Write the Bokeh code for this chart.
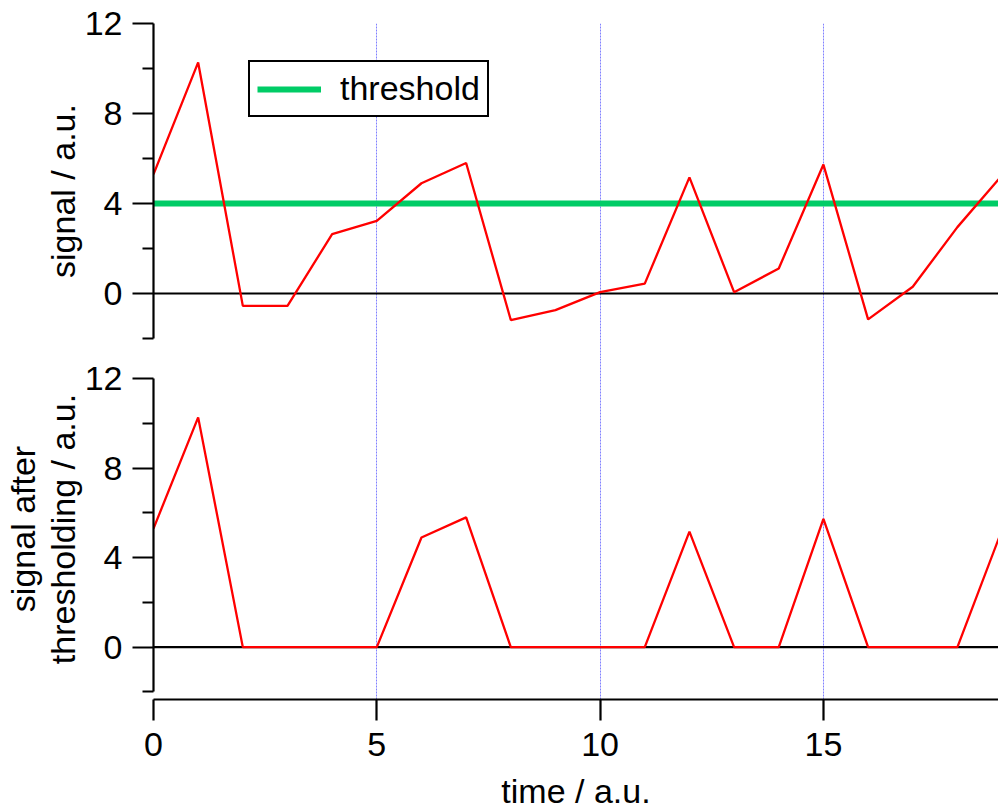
from bokeh.plotting import figure
from bokeh.layouts import column
from bokeh.models import FixedTicker, Grid, Span, Legend, LegendItem, Range1d
from bokeh.embed import file_html
from bokeh.resources import INLINE

# time samples and the raw signal
time = list(range(20))
signal = [5.3, 10.27, -0.55, -0.55, 2.64, 3.23, 4.9, 5.8, -1.18, -0.74,
          0.06, 0.44, 5.16, 0.06, 1.11, 5.73, -1.15, 0.3, 2.95, 5.25]
threshold_level = [4.0] * 20
# signal after thresholding (values below the threshold set to zero)
thresholded = [5.3, 10.27, 0, 0, 0, 0, 4.9, 5.8, 0, 0,
               0, 0, 5.16, 0, 0, 5.73, 0, 0, 0, 5.25]

x_ticks = [0, 5, 10, 15]
y_ticks = [0, 4, 8, 12]
y_minor = [-2, 2, 6, 10]

FONT = "Liberation Sans"
FS = "34px"
RED = "#ff0000"
GREEN = "#00cc66"
GRID = "#8080ff"

x_range = Range1d(0, 18.92)


def style_y(p, label):
    ax = p.yaxis[0]
    ax.ticker = FixedTicker(ticks=y_ticks, minor_ticks=y_minor)
    ax.bounds = (-2, 12)
    ax.axis_line_width = 2.2
    ax.major_tick_line_width = 2.2
    ax.minor_tick_line_width = 2.2
    ax.major_tick_out = 21
    ax.major_tick_in = 0
    ax.minor_tick_out = 11
    ax.minor_tick_in = 0
    ax.major_label_standoff = 10
    ax.major_label_text_font = FONT
    ax.major_label_text_font_size = FS
    ax.major_label_text_color = "black"
    ax.axis_label = label
    ax.axis_label_text_font = FONT
    ax.axis_label_text_font_size = FS
    ax.axis_label_text_font_style = "normal"
    ax.axis_label_text_color = "black"
    ax.axis_label_text_line_height = 1.05
    ax.axis_label_standoff = 0


def add_grid(p):
    p.xgrid.visible = False
    p.ygrid.visible = False
    g = Grid(dimension=0, ticker=FixedTicker(ticks=x_ticks), bounds=(-1, 25),
             grid_line_color=GRID, grid_line_width=1, grid_line_dash="2 1")
    p.add_layout(g)
    p.add_layout(Span(location=0, dimension="width", line_color="black",
                      line_width=2.2, level="underlay"))


# upper panel: raw signal with threshold
top = figure(width=998, height=358, x_range=x_range, y_range=Range1d(12 - 335 / 22.5, 12),
             x_axis_location=None, output_backend="svg", toolbar_location=None,
             min_border_left=153, min_border_right=0, min_border_top=23, min_border_bottom=0)
top.outline_line_color = None
add_grid(top)
style_y(top, "signal / a.u.")
thr = top.line(time, threshold_level, line_color=GREEN, line_width=6)
top.line(time, signal, line_color=RED, line_width=2.3)

legend = Legend(items=[LegendItem(label="threshold", renderers=[thr])],
                location=(95, 241), orientation="vertical",
                label_text_font=FONT, label_text_font_size=FS, label_text_color="black",
                glyph_width=64, glyph_height=30, label_standoff=19, padding=7, spacing=0,
                border_line_color="black", border_line_width=2.6, border_line_alpha=1.0,
                background_fill_color="white", background_fill_alpha=1.0)
top.add_layout(legend)

# lower panel: signal after thresholding
bottom = figure(width=998, height=454, x_range=x_range, y_range=Range1d(-2.34, 12.9),
                output_backend="svg", toolbar_location=None,
                min_border_left=153, min_border_right=0, min_border_top=0, min_border_bottom=111)
bottom.outline_line_color = None
add_grid(bottom)
style_y(bottom, "signal after\nthresholding / a.u.")
bottom.line(time, thresholded, line_color=RED, line_width=2.3)

xa = bottom.xaxis[0]
xa.ticker = FixedTicker(ticks=x_ticks)
xa.axis_line_width = 2.2
xa.major_tick_line_width = 2.2
xa.major_tick_out = 21
xa.major_tick_in = 0
xa.minor_tick_out = 0
xa.minor_tick_in = 0
xa.major_label_standoff = 12
xa.major_label_text_font = FONT
xa.major_label_text_font_size = FS
xa.major_label_text_color = "black"
xa.axis_label = "time / a.u."
xa.axis_label_text_font = FONT
xa.axis_label_text_font_size = FS
xa.axis_label_text_font_style = "normal"
xa.axis_label_text_color = "black"
xa.axis_label_standoff = 13

layout = column(top, bottom, spacing=0)
open("out.html", "w").write(file_html(layout, INLINE))
